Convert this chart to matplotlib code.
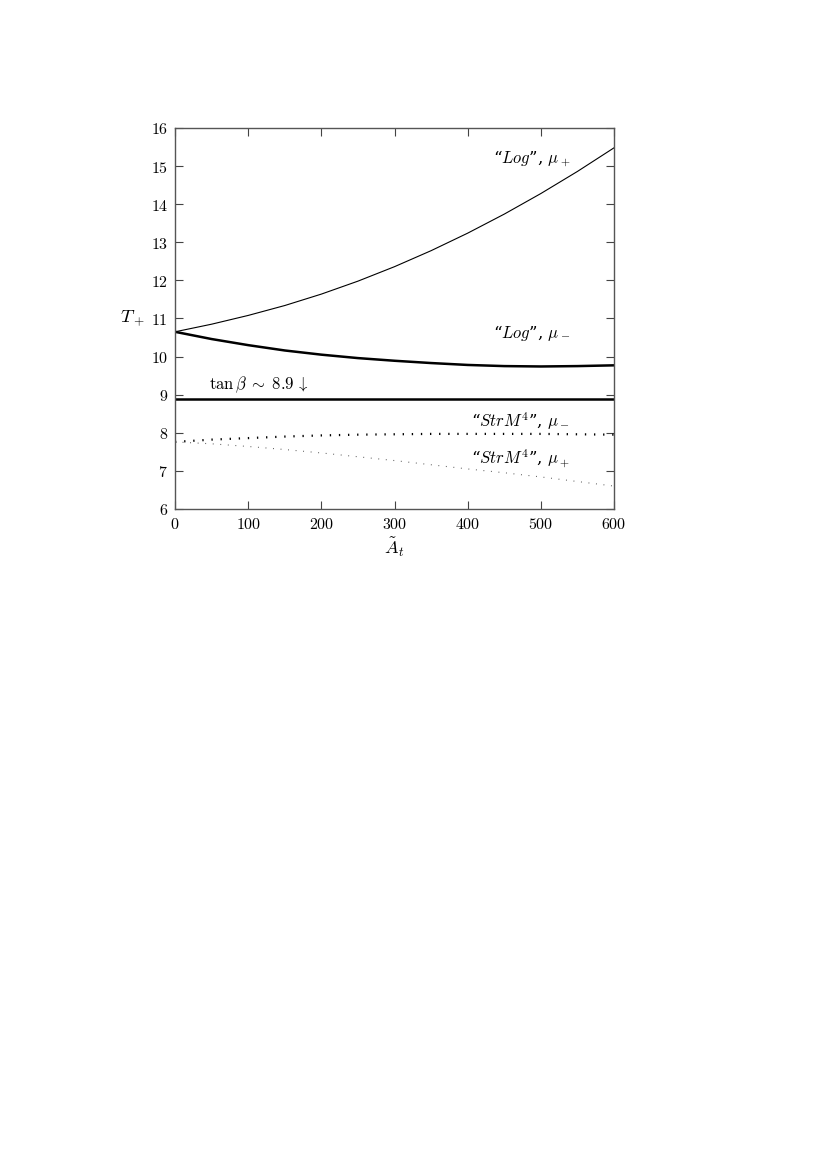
import matplotlib
matplotlib.use('Agg')
import matplotlib.pyplot as plt

plt.rcParams['mathtext.fontset'] = 'cm'
plt.rcParams['font.family'] = 'serif'
plt.rcParams['font.serif'] = ['DejaVu Serif']

# values
At = [0, 50, 100, 150, 200, 250, 300, 350, 400, 450, 500, 550, 600]
log_mup = [10.65, 10.85, 11.08, 11.34, 11.64, 11.98, 12.36, 12.78, 13.24, 13.74, 14.28, 14.86, 15.48]
log_mum = [10.65, 10.46, 10.30, 10.16, 10.05, 9.96, 9.89, 9.83, 9.78, 9.75, 9.74, 9.75, 9.77]
tanb = [8.88] * len(At)
str_mum = [7.76, 7.82, 7.86, 7.90, 7.93, 7.95, 7.96, 7.97, 7.97, 7.97, 7.97, 7.96, 7.95]
str_mup = [7.76, 7.71, 7.64, 7.56, 7.47, 7.37, 7.27, 7.16, 7.05, 6.95, 6.84, 6.72, 6.60]

xticks = [0, 100, 200, 300, 400, 500, 600]
yticks = [6, 7, 8, 9, 10, 11, 12, 13, 14, 15, 16]

fig = plt.figure(figsize=(8.28, 11.7), dpi=100)
ax = fig.add_axes([0.2114, 0.5650, 0.5302, 0.3256])

ax.plot(At, log_mup, color='black', lw=0.8)
ax.plot(At, log_mum, color='black', lw=1.8)
ax.plot(At, tanb, color='black', lw=1.8)
ax.plot(At, str_mum, color='black', lw=1.6, linestyle=(0, (0.6, 3.5)))
ax.plot(At, str_mup, color='#555555', lw=0.8, linestyle=(0, (0.8, 6)))

ax.set_xlim(0, 600)
ax.set_ylim(6, 16)
ax.set_xticks(xticks)
ax.set_yticks(yticks)
ax.set_xticklabels(['$%d$' % v for v in xticks])
ax.set_yticklabels(['$%d$' % v for v in yticks])
ax.tick_params(direction='in', top=True, right=True, length=6, width=0.8,
               labelsize=11.5, color='#444444', pad=5)
for s in ax.spines.values():
    s.set_color('#555555')
    s.set_linewidth(1.0)

ax.set_xlabel(r'$\tilde{A}_t$', fontsize=13, labelpad=2)
ax.text(-0.068, 0.5, r'$T_+$', transform=ax.transAxes, fontsize=13.5,
        ha='right', va='center')

fs = 12
ax.text(435, 15.2, r'“$Log$”, $\mu_+$', fontsize=fs, va='center')
ax.text(435, 10.62, r'“$Log$”, $\mu_-$', fontsize=fs, va='center')
ax.text(46, 9.27, r'$\tan\beta\;\sim\;8.9\,\downarrow$', fontsize=fs, va='center')
ax.text(405, 8.3, r'“$StrM^4$”, $\mu_-$', fontsize=fs, va='center')
ax.text(405, 7.31, r'“$StrM^4$”, $\mu_+$', fontsize=fs, va='center')

fig.savefig('out.png', dpi=100)
